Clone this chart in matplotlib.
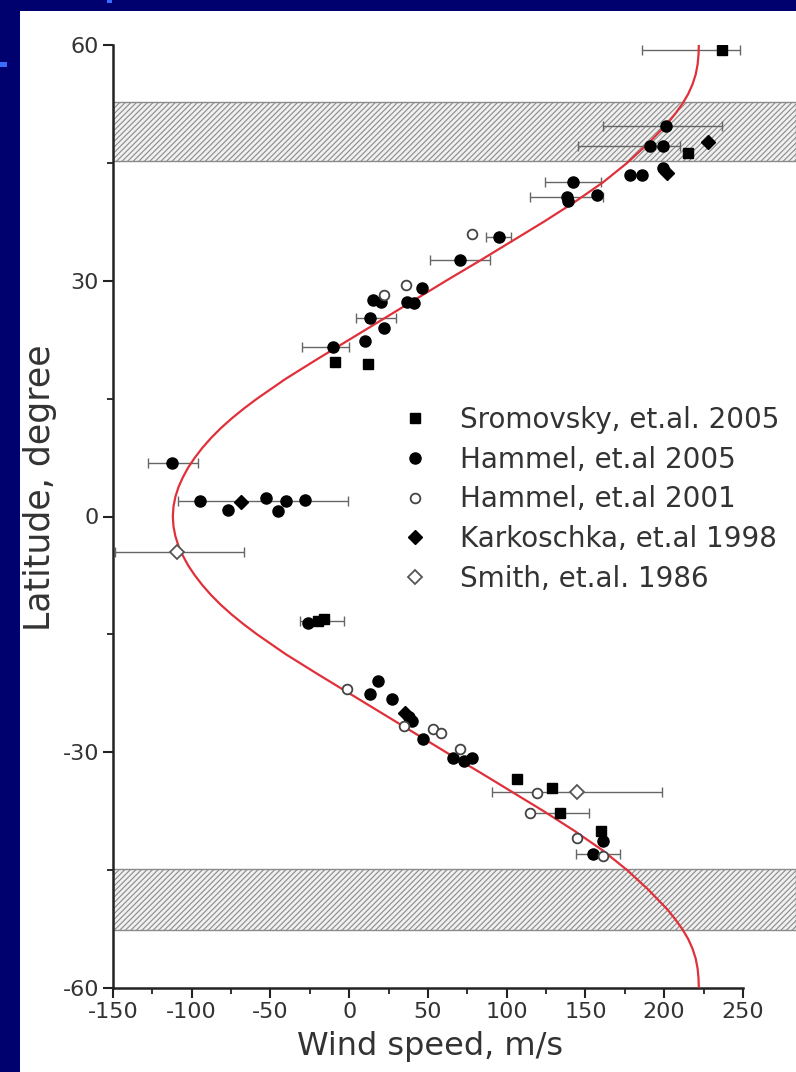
import matplotlib.pyplot as plt
from matplotlib.patches import Rectangle

## MODEL PROFILE (red curve)
curve_lat = [60, 58.75, 57.5, 56.25, 55, 53.75, 52.5, 51.25, 50, 47.5, 45, 42.5, 40, 37.5, 35,
             32.5, 30, 27.5, 25, 22.5, 20, 17.5, 15, 13.75, 12.5, 11.25, 10, 8.75, 7.5, 6.25, 5,
             3.75, 2.5, 1.25, 0,
             -1.25, -2.5, -3.75, -5, -6.25, -7.5, -8.75, -10, -11.25, -12.5, -13.75, -15, -17.5,
             -20, -22.5, -25, -27.5, -30, -32.5, -35, -37.5, -40, -42.5, -45, -47.5, -50, -51.25,
             -52.5, -53.75, -55, -56.25, -57.5, -58.75, -60]
curve_u   = [222, 221.8, 221.2, 220, 218, 215.2, 211.5, 207, 202, 190, 176.5, 161, 143, 123.5, 103,
             82.5, 61.5, 41, 20.5, 0, -20.5, -40.5, -58.5, -66.8, -74.5, -81.5, -87.7, -93.2, -98,
             -102.2, -105.6, -108.4, -110.4, -111.6, -112,
             -111.6, -110.4, -108.4, -105.6, -102.2, -98, -93.2, -87.7, -81.5, -74.5, -66.8, -58.5,
             -40.5, -20.5, 0, 20.5, 41, 61.5, 82.5, 103, 123.5, 143, 161, 176.5, 190, 202, 207,
             211.5, 215.2, 218, 220, 221.2, 221.8, 222]

## OBSERVATIONS
sro_lat = [59.4, 46.2, 19.7, 19.4, -13.3, -13.1, -33.4, -34.6, -37.7, -40.0]
sro_u   = [237, 215, -9, 12, -20, -16, 106.5, 129, 134, 160]

ham05_lat = [49.7, 47.1, 47.1, 44.4, 43.5, 43.5, 42.6, 40.7, 40.1, 40.9, 35.6, 32.6, 29.1, 27.3,
             27.2, 27.5, 27.3, 25.3, 24.0, 22.3, 21.6, 6.8, 2.0, 0.8, 2.4, 2.0, 0.7, 2.1, -13.5,
             -20.9, -22.6, -23.2, -25.5, -26.0, -28.3, -30.7, -31.1, -30.7, -41.3, -43.0]
ham05_u   = [201, 191, 199, 199.5, 178, 186, 142, 138, 139, 157.5, 95, 70.5, 46, 37,
             41, 15, 20, 13, 22, 10, -10, -112.6, -94.6, -77, -53, -40, -45, -28, -26,
             18, 13, 27, 38, 40, 47, 66, 73, 78, 161, 155]

ham01_lat = [36.0, 29.5, 28.2, -22.0, -26.7, -27.0, -27.5, -29.6, -35.2, -37.7, -40.9, -43.2]
ham01_u   = [78, 36, 22, -1.5, 34.5, 53, 58, 70.5, 119, 115, 144.5, 161]

kar_lat = [47.7, 43.7, 1.8, -25.0]
kar_u   = [228, 202, -69, 35.6]

smi_lat = [-4.5, -35.0]
smi_u   = [-109.5, 144.5]

# horizontal error bars (centre, half width)
eb_lat = [59.4, 49.7, 47.1, 42.6, 40.7, 35.6, 32.6, 25.3, 21.6, 6.8, 2.0, -4.5, -13.3, -35.0, -37.7, -43.0]
eb_u   = [217, 199, 177.5, 142, 138, 95, 70.5, 17, -15, -112, -55, -108, -17, 144.5, 134, 158]
eb_err = [31, 38, 32.5, 18, 23, 8, 19, 13, 15, 16, 54, 41, 14, 54, 18, 14]

# shaded latitude bands
band_lo = [45.3, -52.6]
band_hi = [52.7, -44.9]

x_ticks = [-150, -100, -50, 0, 50, 100, 150, 200, 250]
y_ticks = [-60, -30, 0, 30, 60]

plt.rcParams['font.family'] = ['DejaVu Sans']
plt.rcParams['axes.unicode_minus'] = False
plt.rcParams['hatch.color'] = '#9a9a9a'
plt.rcParams['hatch.linewidth'] = 0.8

fig = plt.figure(figsize=(7.96, 10.72), dpi=100, facecolor='#00006e')
# white slide area plus the two small blue marks
fig.patches.append(Rectangle((20/796, 0), 776/796, 1061/1072, transform=fig.transFigure,
                             facecolor='white', edgecolor='none', zorder=-10))
fig.patches.append(Rectangle((107/796, 1069/1072), 5/796, 3/1072, transform=fig.transFigure,
                             facecolor='#3a6cff', edgecolor='none', zorder=-9))
fig.patches.append(Rectangle((0, 1 - 67/1072), 7/796, 5/1072, transform=fig.transFigure,
                             facecolor='#3a6cff', edgecolor='none', zorder=-9))

ax = fig.add_axes([113/796, 1 - 988/1072, 683/796, 943/1072])
ax.set_zorder(5)
ax.set_facecolor('none')

for lo, hi in zip(band_lo, band_hi):
    ax.axhspan(lo, hi, facecolor='#f0f0f0', edgecolor='#8a8a8a', hatch='//////',
               linewidth=1.0, zorder=1)

ax.plot(curve_u, curve_lat, color='#e0303a', linewidth=1.6, zorder=3)

ax.errorbar(eb_u, eb_lat, xerr=eb_err, fmt='none', ecolor='#666666', elinewidth=1.0,
            capsize=3.5, capthick=1.0, zorder=2)

ax.plot(sro_u, sro_lat, 's', color='black', markersize=7, zorder=4, label='Sromovsky, et.al. 2005')
ax.plot(ham05_u, ham05_lat, 'o', color='black', markersize=8, zorder=4, label='Hammel, et.al 2005')
ax.plot(ham01_u, ham01_lat, 'o', markerfacecolor='white', markeredgecolor='#444444',
        markeredgewidth=1.3, markersize=7, zorder=5, label='Hammel, et.al 2001')
ax.plot(kar_u, kar_lat, 'D', color='black', markersize=7, zorder=4, label='Karkoschka, et.al 1998')
ax.plot(smi_u, smi_lat, 'D', markerfacecolor='white', markeredgecolor='#555555',
        markeredgewidth=1.3, markersize=7, zorder=5, label='Smith, et.al. 1986')

ax.set_xlim(-150, 283.7)
ax.set_ylim(-60, 60)
ax.set_xticks(x_ticks)
ax.set_yticks(y_ticks)
ax.set_xticks(range(-125, 250, 50), minor=True)
ax.set_yticks([-45, -15, 15, 45], minor=True)

for side in ['top', 'right']:
    ax.spines[side].set_visible(False)
for side in ['left', 'bottom']:
    ax.spines[side].set_linewidth(1.8)
    ax.spines[side].set_color('#222222')
ax.spines['bottom'].set_bounds(-150, 250)
ax.spines['left'].set_bounds(-60, 60)

ax.tick_params(which='major', direction='out', length=7, width=1.5, color='#222222',
               labelsize=16, labelcolor='#333333', pad=3)
ax.tick_params(which='minor', direction='out', length=4, width=1.3, color='#222222')

ax.set_xlabel('Wind speed, m/s', fontsize=23, color='#333333')
ax.set_ylabel('Latitude, degree', fontsize=25, color='#333333')
ax.xaxis.set_label_coords(0.464, -0.046)
ax.yaxis.set_label_coords(-0.082, 0.531)

ax.legend(loc='upper left', bbox_to_anchor=(401/796, 1 - 406/1072),
          bbox_transform=fig.transFigure, frameon=False, fontsize=20,
          handlelength=1.0, handletextpad=1.12, labelspacing=0.42,
          borderpad=0, borderaxespad=0, labelcolor='#333333')

plt.savefig('out.png', dpi=100, facecolor=fig.get_facecolor())
